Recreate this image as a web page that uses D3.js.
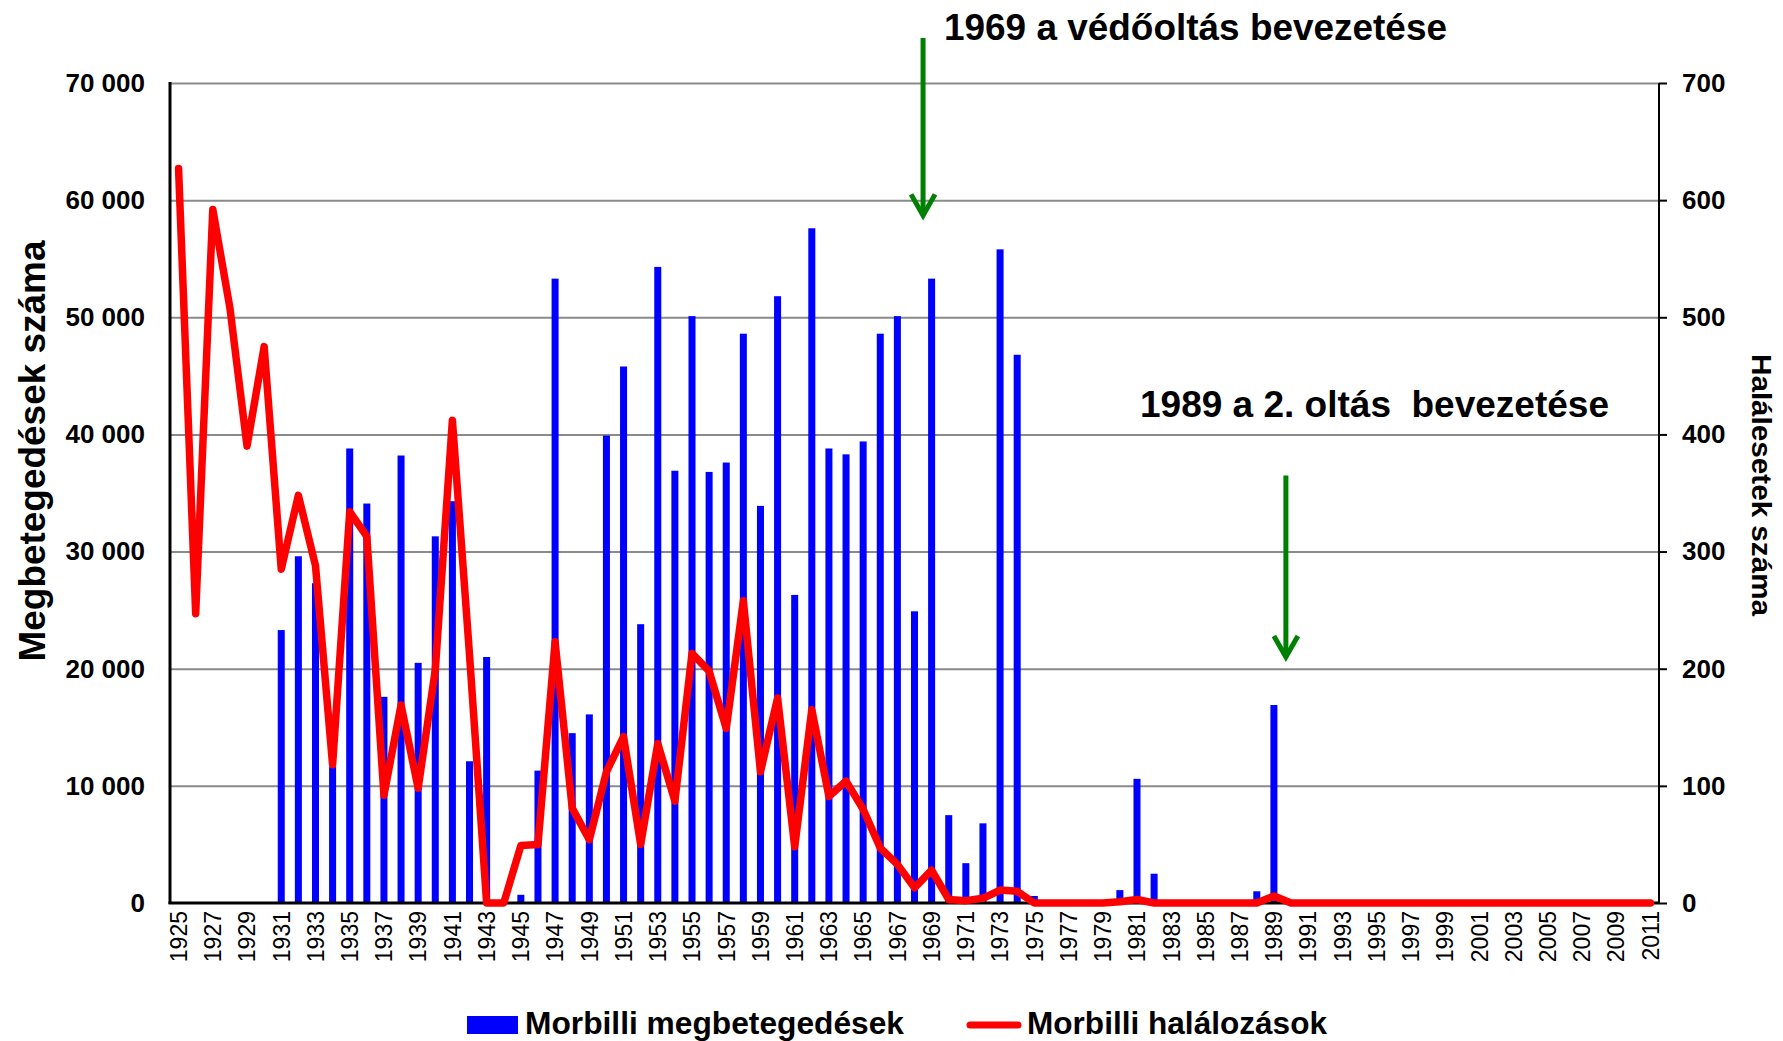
<!DOCTYPE html>
<html>
<head>
<meta charset="utf-8">
<script src="https://cdn.jsdelivr.net/npm/d3@7/dist/d3.min.js"></script>
<style>
  html, body { margin: 0; padding: 0; background: #fff; }
  svg { display: block; }
  text { font-family: "Liberation Sans", Arial, sans-serif; }
</style>
</head>
<body>
<svg id="chart" width="1783" height="1041"></svg>
<script>
// ---------- DATA ----------
const years = [1925,1926,1927,1928,1929,1930,1931,1932,1933,1934,1935,1936,1937,1938,1939,1940,
  1941,1942,1943,1944,1945,1946,1947,1948,1949,1950,1951,1952,1953,1954,1955,1956,1957,1958,1959,
  1960,1961,1962,1963,1964,1965,1966,1967,1968,1969,1970,1971,1972,1973,1974,1975,1976,1977,1978,
  1979,1980,1981,1982,1983,1984,1985,1986,1987,1988,1989,1990,1991,1992,1993,1994,1995,1996,1997,
  1998,1999,2000,2001,2002,2003,2004,2005,2006,2007,2008,2009,2010,2011];

// Morbilli megbetegedések (cases, left axis)
const cases = [0,0,0,0,0,0,23300,29600,27300,11600,38800,34100,17600,38200,20500,31300,
  34300,12100,21000,0,700,11300,53300,14500,16100,39900,45800,23800,54300,36900,50100,36800,37600,48600,33900,
  51800,26300,57600,38800,38300,39400,48600,50100,24900,53300,7500,3400,6800,55800,46800,600,0,0,100,
  0,1100,10600,2500,0,0,0,0,0,1000,16900,0,0,0,0,0,0,0,0,
  0,0,0,0,0,0,0,0,0,0,0,0,0,0];

// Morbilli halálozások (deaths, right axis)
const deaths = [627,247,592,508,390,475,285,348,288,118,334,313,92,169,98,199,
  412,212,0,0,49,50,223,81,54,112,142,50,136,87,213,198,149,258,112,
  175,48,165,91,104,80,47,33,13,28,3,2,4,11,10,0,0,0,0,
  0,1,3,0,0,0,0,0,0,0,6,0,0,0,0,0,0,0,0,
  0,0,0,0,0,0,0,0,0,0,0,0,0,0];

const tickYears = [1925,1927,1929,1931,1933,1935,1937,1939,1941,1943,1945,1947,1949,1951,1953,1955,
  1957,1959,1961,1963,1965,1967,1969,1971,1973,1975,1977,1979,1981,1983,1985,1987,1989,1991,1993,
  1995,1997,1999,2001,2003,2005,2007,2009,2011];
const leftTicks = [0,10000,20000,30000,40000,50000,60000,70000];
const rightTicks = [0,100,200,300,400,500,600,700];

const seriesNames = ["Morbilli megbetegedések", "Morbilli halálozások"];
const axisTitles = ["Megbetegedések száma", "Halálesetek száma"];
const notes = ["1969 a védőoltás bevezetése", "1989 a 2. oltás  bevezetése"];

// ---------- LAYOUT ----------
const L = 170, R = 1659, T = 83, B = 903;
const svg = d3.select("#chart");

const x = d3.scaleBand().domain(years).range([L, R]).paddingInner(0.59).paddingOuter(0.295);
const step = x.step();
const cx = d => x(d) + x.bandwidth() / 2;
const yL = d3.scaleLinear().domain([0, 70000]).range([B, T]);
const yR = d3.scaleLinear().domain([0, 700]).range([B, T]);
const fmt = v => d3.format(",")(v).replace(/,/g, " ");

// gridlines
svg.append("g")
  .attr("transform", `translate(${L},0)`)
  .call(d3.axisRight(yL).tickValues(leftTicks.slice(1)).tickSize(R - L).tickFormat(""))
  .call(g => g.select(".domain").remove())
  .call(g => g.selectAll("line").attr("stroke", "#8a8a8a").attr("stroke-width", 2));

// bars
svg.append("g").selectAll("rect")
  .data(years.map((yr, i) => ({ yr, v: cases[i] })).filter(d => d.v > 0))
  .join("rect")
  .attr("x", d => x(d.yr))
  .attr("width", x.bandwidth())
  .attr("y", d => yL(d.v))
  .attr("height", d => B - yL(d.v))
  .attr("fill", "#0000ff");

// left axis
svg.append("g")
  .attr("transform", `translate(${L},0)`)
  .call(d3.axisLeft(yL).tickValues(leftTicks).tickSize(0).tickPadding(25).tickFormat(fmt))
  .call(g => g.select(".domain").attr("stroke", "#000").attr("stroke-width", 3).attr("d", `M0,${T - 1}V${B + 1}`))
  .call(g => g.selectAll("text").attr("font-size", 26).attr("font-weight", "bold")
      .attr("font-family", "'Liberation Sans', Arial, sans-serif").attr("fill", "#000"));

// right axis
svg.append("g")
  .attr("transform", `translate(${R},0)`)
  .call(d3.axisRight(yR).tickValues(rightTicks).tickSize(8).tickPadding(15).tickFormat(d3.format("d")))
  .call(g => g.select(".domain").attr("stroke", "#000").attr("stroke-width", 2).attr("d", `M0,${T}V${B}`))
  .call(g => g.selectAll("line").attr("stroke", "#000").attr("stroke-width", 2))
  .call(g => g.selectAll("text").attr("font-size", 26).attr("font-weight", "bold")
      .attr("font-family", "'Liberation Sans', Arial, sans-serif").attr("fill", "#000"));

// bottom axis
svg.append("g")
  .attr("transform", `translate(0,${B})`)
  .call(d3.axisBottom(x).tickValues(tickYears).tickSize(0).tickFormat(d3.format("d")))
  .call(g => g.select(".domain").attr("stroke", "#000").attr("stroke-width", 3).attr("d", `M${L - 1.5},0H${R}`))
  .call(g => g.selectAll(".tick text")
      .attr("font-size", 23)
      .attr("font-family", "'Liberation Sans', Arial, sans-serif")
      .attr("fill", "#000")
      .attr("text-anchor", "end")
      .attr("transform", "rotate(-90)")
      .attr("x", -8).attr("y", 0).attr("dy", "0.36em"));

// deaths line
const line = d3.line().x((d, i) => cx(years[i])).y(d => yR(d));
svg.append("path")
  .datum(deaths)
  .attr("d", line)
  .attr("fill", "none")
  .attr("stroke", "#ff0000")
  .attr("stroke-width", 7.5)
  .attr("stroke-linejoin", "round")
  .attr("stroke-linecap", "round");

// axis titles
svg.append("text")
  .attr("transform", `translate(45,451) rotate(-90)`)
  .attr("text-anchor", "middle")
  .attr("font-size", 36).attr("font-weight", "bold")
  .attr("textLength", 421).attr("lengthAdjust", "spacingAndGlyphs")
  .text(axisTitles[0]);
svg.append("text")
  .attr("transform", `translate(1752,485) rotate(90)`)
  .attr("text-anchor", "middle")
  .attr("font-size", 28).attr("font-weight", "bold")
  .attr("textLength", 262).attr("lengthAdjust", "spacingAndGlyphs")
  .text(axisTitles[1]);

// annotations
const green = "#008000";
function arrow(xp, y1, y2) {
  svg.append("path")
    .attr("d", `M${xp},${y1}V${y2}`)
    .attr("stroke", green).attr("stroke-width", 5).attr("fill", "none");
  svg.append("path")
    .attr("d", `M${xp - 12},${y2 - 21}L${xp},${y2}L${xp + 12},${y2 - 21}`)
    .attr("stroke", green).attr("stroke-width", 5).attr("fill", "none")
    .attr("stroke-linejoin", "miter");
}
arrow(cx(1969) - step / 2, 38, yR(587));
arrow(cx(1989) + 0.7 * step, yR(365), yR(210));

svg.append("text")
  .attr("x", 944).attr("y", 40)
  .attr("font-size", 37).attr("font-weight", "bold")
  .attr("textLength", 503).attr("lengthAdjust", "spacingAndGlyphs")
  .text(notes[0]);
svg.append("text")
  .attr("x", 1140).attr("y", 417)
  .attr("font-size", 37).attr("font-weight", "bold")
  .attr("style", "white-space: pre")
  .attr("textLength", 469).attr("lengthAdjust", "spacingAndGlyphs")
  .text(notes[1]);

// legend
const lg = svg.append("g");
lg.append("rect").attr("x", 467).attr("y", 1016).attr("width", 51).attr("height", 18).attr("fill", "#0000ff");
lg.append("text").attr("x", 525).attr("y", 1034)
  .attr("font-size", 32).attr("font-weight", "bold")
  .attr("textLength", 379).attr("lengthAdjust", "spacingAndGlyphs")
  .text(seriesNames[0]);
lg.append("path").attr("d", "M970,1025H1018")
  .attr("stroke", "#ff0000").attr("stroke-width", 7).attr("stroke-linecap", "round");
lg.append("text").attr("x", 1027).attr("y", 1034)
  .attr("font-size", 32).attr("font-weight", "bold")
  .attr("textLength", 300).attr("lengthAdjust", "spacingAndGlyphs")
  .text(seriesNames[1]);
</script>
</body>
</html>
